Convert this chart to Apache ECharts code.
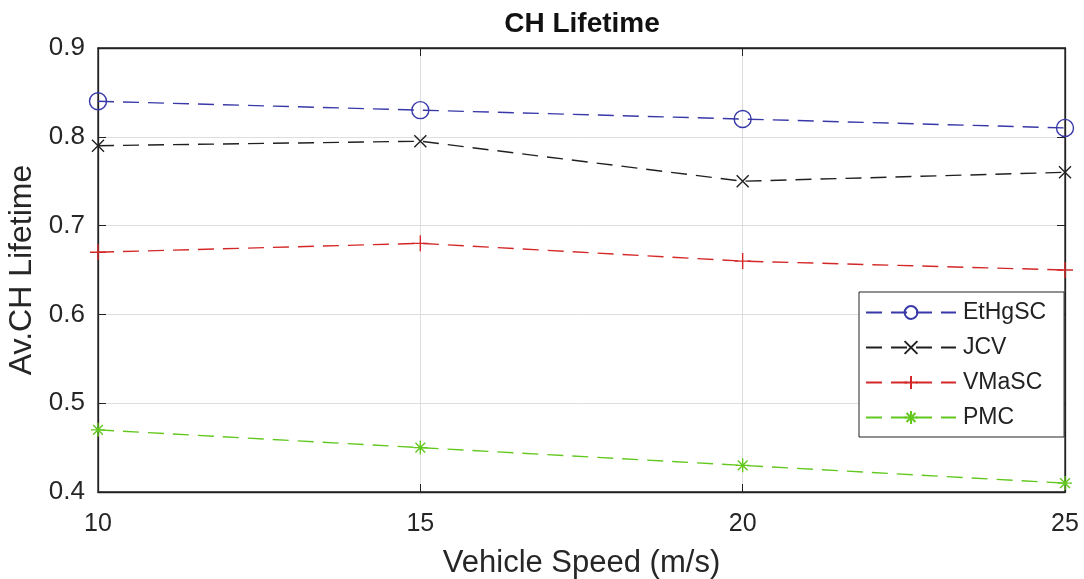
<!DOCTYPE html>
<html>
<head>
<meta charset="utf-8">
<script src="https://cdn.jsdelivr.net/npm/echarts@6/dist/echarts.min.js"></script>
<style>
  html, body { margin: 0; padding: 0; background: #fff; }
  #chart { width: 1084px; height: 579px; }
</style>
</head>
<body>
<div id="chart"></div>
<script>
// Vehicle speeds (m/s) on the x axis
const speeds = [10, 15, 20, 25];

// Average cluster-head lifetime per scheme
const ethgsc = [0.84, 0.83, 0.82, 0.81];
const jcv    = [0.79, 0.795, 0.75, 0.76];
const vmasc  = [0.67, 0.68, 0.66, 0.65];
const pmc    = [0.47, 0.45, 0.43, 0.41];

const seriesNames = ['EtHgSC', 'JCV', 'VMaSC', 'PMC'];

// Marker outlines drawn as stroked paths
const symCircle = 'path://M10,0A10,10,0,1,1,9.99,0Z';
const symX = 'path://M0,0L10,10M10,0L0,10';
const symPlus = 'path://M5,0L5,10M0,5L10,5';
const symStar = 'path://M5,0L5,10M0,5L10,5M1.5,1.5L8.5,8.5M8.5,1.5L1.5,8.5';

const FONT = 'Liberation Sans, Arial, sans-serif';

function pairs(vals) {
  return speeds.map((s, i) => [s, vals[i]]);
}

function makeSeries(name, vals, color, symbol, size) {
  return {
    name: name,
    type: 'line',
    data: pairs(vals),
    color: color,
    symbol: symbol,
    symbolSize: size,
    showAllSymbol: true,
    clip: false,
    lineStyle: { color: color, width: 1.4, type: [16, 9] },
    itemStyle: { color: 'rgba(0,0,0,0)', borderColor: color, borderWidth: 1.4 },
    emphasis: { disabled: true },
    z: 3
  };
}

const chart = echarts.init(document.getElementById('chart'), null, { renderer: 'canvas' });

const axisTextColor = '#262626';

chart.setOption({
  animation: false,
  backgroundColor: '#ffffff',
  title: {
    text: 'CH Lifetime',
    left: 582,
    textAlign: 'center',
    top: 10,
    padding: 0,
    textStyle: { fontFamily: FONT, fontSize: 28, fontWeight: 'bold', color: '#111' }
  },
  legend: {
    data: seriesNames,
    orient: 'vertical',
    left: 859,
    top: 292,
    padding: [9, 18, 8, 6],
    itemWidth: 90,
    itemHeight: 16,
    itemGap: 12,
    backgroundColor: '#ffffff',
    borderColor: '#222',
    borderWidth: 1,
    textStyle: { fontFamily: FONT, fontSize: 23, color: '#222', padding: [0, 0, 0, 2] }
  },
  grid: {
    left: 98,
    right: 19,
    top: 48,
    bottom: 87,
    containLabel: false,
    outerBoundsMode: 'none',
    show: true,
    borderColor: '#222',
    borderWidth: 1.3,
    backgroundColor: '#ffffff'
  },
  xAxis: [
    {
      type: 'value',
      min: 10,
      max: 25,
      interval: 5,
      name: 'Vehicle Speed (m/s)',
      nameLocation: 'middle',
      nameGap: 56,
      nameTextStyle: { fontFamily: FONT, fontSize: 31, color: axisTextColor },
      axisLine: { show: true, onZero: false, lineStyle: { color: '#222', width: 1.3 } },
      axisTick: { show: true, inside: true, length: 8, lineStyle: { color: '#222' } },
      axisLabel: { fontFamily: FONT, fontSize: 25, color: axisTextColor, margin: 20 },
      splitLine: { show: true, lineStyle: { color: '#dedede', width: 1 } }
    },
    {
      type: 'value',
      position: 'top',
      min: 10,
      max: 25,
      interval: 5,
      axisLine: { show: true, onZero: false, lineStyle: { color: '#222', width: 1.3 } },
      axisTick: { show: true, inside: true, length: 8, lineStyle: { color: '#222' } },
      axisLabel: { show: false },
      splitLine: { show: false }
    }
  ],
  yAxis: [
    {
      type: 'value',
      min: 0.4,
      max: 0.9,
      interval: 0.1,
      name: 'Av.CH Lifetime',
      nameLocation: 'middle',
      nameGap: 58,
      nameTextStyle: { fontFamily: FONT, fontSize: 32, color: axisTextColor },
      axisLine: { show: true, onZero: false, lineStyle: { color: '#222', width: 1.3 } },
      axisTick: { show: true, inside: true, length: 8, lineStyle: { color: '#222' } },
      axisLabel: {
        fontFamily: FONT, fontSize: 26, color: axisTextColor, margin: 13,
        formatter: v => v.toFixed(1)
      },
      splitLine: { show: true, lineStyle: { color: '#dedede', width: 1 } }
    },
    {
      type: 'value',
      position: 'right',
      min: 0.4,
      max: 0.9,
      interval: 0.1,
      axisLine: { show: true, onZero: false, lineStyle: { color: '#222', width: 1.3 } },
      axisTick: { show: true, inside: true, length: 8, lineStyle: { color: '#222' } },
      axisLabel: { show: false },
      splitLine: { show: false }
    }
  ],
  series: [
    makeSeries('EtHgSC', ethgsc, '#3838a8', symCircle, 17),
    makeSeries('JCV', jcv, '#202020', symX, 12),
    makeSeries('VMaSC', vmasc, '#d42828', symPlus, 16),
    makeSeries('PMC', pmc, '#62c81e', symStar, 14)
  ]
});
</script>
</body>
</html>
